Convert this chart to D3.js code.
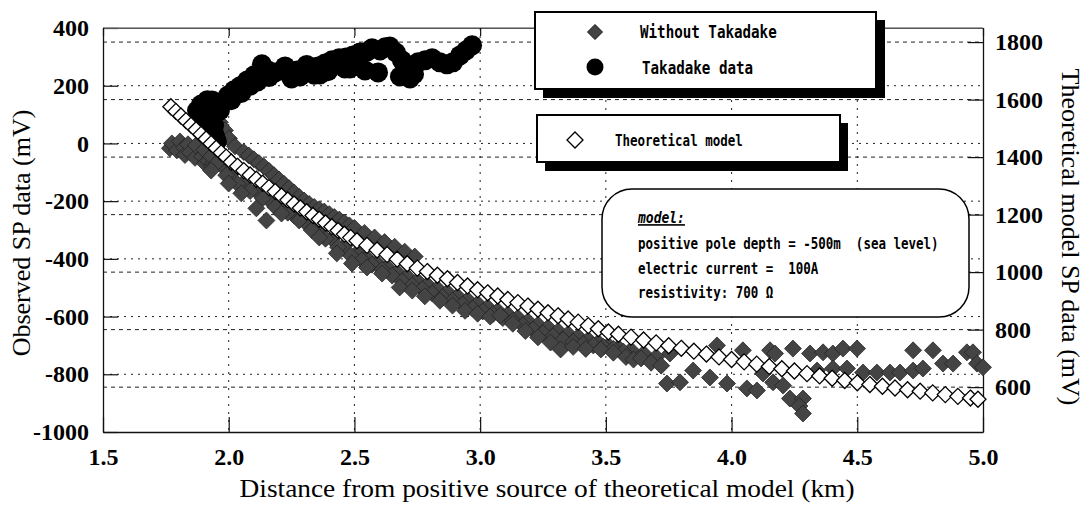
<!DOCTYPE html>
<html><head><meta charset="utf-8">
<script src="https://cdn.jsdelivr.net/npm/d3@7"></script>
<style>body{margin:0;background:#fff}svg{display:block}</style>
</head><body>
<svg id="c" width="1084" height="505"></svg>
<script>
const xTicks=[1.5,2.0,2.5,3.0,3.5,4.0,4.5,5.0];
const leftTicks=[-1000,-800,-600,-400,-200,0,200,400];
const rightTicks=[600,800,1000,1200,1400,1600,1800];

// Observed SP without Takadake (km, mV, left axis)
const withoutTakadake=[
[1.766,-17],[1.774,0],[1.794,-24],[1.806,7],[1.822,-14],[1.826,-40],[1.838,-3],[1.846,-31],[1.866,-50],[1.870,-7],[1.894,-45],[1.902,-22],[1.906,-70],[1.918,-60],[1.934,-80],[1.938,-68],
[1.965,73],[1.985,45],[2.001,17],[2.025,-10],
[2.06,-30],[2.08,-42],[2.10,-55],[2.12,-68],[2.14,-80],[2.16,-95],[2.18,-110],[2.20,-125],[2.22,-140],[2.24,-155],[2.26,-170],[2.28,-185],[2.30,-198],[2.32,-210],[2.34,-220],[2.36,-228],[2.38,-236],[2.40,-245],[2.42,-255],[2.44,-264],[2.46,-274],[2.48,-284],[2.50,-293],[2.54,-310],[2.58,-326],[2.62,-342],[2.66,-358],[2.70,-375],[2.74,-392],
[1.93,-45],[1.97,-75],[2.01,-105],[2.06,-135],[2.11,-165],[2.16,-195],[2.21,-222],[2.26,-250],[2.31,-278],[2.36,-305],[2.41,-330],[2.46,-355],[2.51,-380],[2.55,-398],[2.59,-414],[2.63,-430],[2.67,-446],[2.71,-462],[2.75,-476],[2.79,-490],[2.83,-503],[2.87,-516],[2.91,-530],[2.95,-542],[2.99,-555],[3.03,-568],[3.07,-580],[3.11,-592],[3.15,-604],[3.19,-616],[3.23,-628],[3.27,-638],[3.31,-650],[3.35,-660],[3.39,-670],[3.43,-680],[3.47,-690],[3.51,-700],[3.55,-708],[3.60,-716],[3.65,-728],[3.70,-740],
[1.95,-70],[1.99,-110],[2.035,-140],[2.085,-165],[2.135,-190],[2.185,-220],[2.235,-240],[2.285,-262],[2.335,-295],[2.385,-330],[2.435,-360],[2.485,-388],[2.53,-405],[2.57,-420],[2.61,-438],[2.65,-458],[2.69,-478],[2.73,-492],[2.77,-505],[2.81,-520],[2.85,-532],[2.89,-545],[2.93,-558],[2.97,-572],[3.01,-582],[3.05,-592],[3.09,-605],[3.13,-615],[3.17,-630],[3.21,-645],[3.25,-658],[3.29,-668],[3.33,-680],[3.37,-688],[3.41,-695],[3.45,-700],[3.49,-705],[3.53,-712],[3.57,-722],
[1.93,-94],[2.00,-139],[2.05,-173],[2.11,-225],[2.15,-267],[2.21,-243],[2.28,-267],[2.33,-300],[2.36,-326],[2.43,-381],[2.49,-416],[2.55,-430],[2.61,-451],[2.68,-499],[2.73,-510],[2.78,-530],[2.84,-545],[2.89,-562],[2.94,-580],[2.99,-590],[3.04,-600],[3.08,-596],[3.13,-625],[3.18,-650],[3.23,-672],[3.28,-690],[3.32,-714],[3.37,-705],[3.42,-712],[3.48,-714],[3.53,-725],[3.58,-740],[3.61,-749],
[3.64,-745],[3.68,-760],[3.72,-770],
[3.743,-832],[3.795,-828],[3.755,-728],[3.847,-787],[3.914,-811],[3.942,-700],[3.982,-832],[4.045,-717],[4.061,-849],[4.101,-856],[4.125,-797],[4.153,-717],[4.165,-828],[4.173,-728],[4.205,-839],[4.244,-711],[4.232,-884],[4.284,-884],[4.270,-910],[4.284,-936],
[4.312,-728],[4.340,-787],[4.364,-724],[4.403,-728],[4.403,-780],[4.443,-711],[4.459,-780],[4.499,-711],[4.523,-794],[4.578,-794],[4.630,-794],[4.670,-794],[4.722,-787],[4.761,-780],[4.722,-717],[4.801,-717],[4.841,-763],[4.881,-763],[4.936,-724],[4.960,-724],[4.976,-763],[5.0,-776]
];

// Takadake data (km, mV, left axis)
const takadake=[
[1.874,114],[1.886,87],[1.906,125],[1.926,107],[1.918,73],[1.942,62],[1.945,28],[1.953,7],[1.898,52],[1.934,149],[1.965,114],[1.890,135],[1.915,150],
[1.997,166],[2.010,150],[2.021,184],[2.045,198],[2.050,175],[2.073,218],[2.085,200],[2.101,236],[2.115,215],[2.128,243],[2.132,274],[2.156,253],[2.160,230],[2.184,246],[2.212,253],[2.224,267],[2.244,246],[2.250,225],[2.272,253],[2.284,232],[2.299,253],[2.310,272],[2.327,260],[2.340,238],[2.355,267],[2.363,239],[2.383,277],[2.395,250],[2.411,288],[2.439,295],[2.462,260],[2.466,298],[2.482,260],[2.494,305],[2.522,315],[2.542,253],[2.550,318],[2.570,330],[2.594,246],[2.602,322],[2.622,333],[2.641,336],
[2.665,315],[2.681,232],[2.689,288],[2.713,253],[2.721,225],[2.737,240],[2.753,281],[2.781,288],[2.809,295],[2.840,281],[2.868,274],[2.892,281],[2.920,305],[2.944,322],[2.968,340]
];

// Theoretical model (km, mV, right axis)
const theoretical=[
[1.77,1575],[1.79,1559],[1.81,1543],[1.83,1527],[1.85,1511],[1.87,1495],[1.89,1479],[1.91,1463],[1.93,1447],[1.95,1431],[1.97,1415],[1.99,1400],
[2.01,1383],[2.035,1368],[2.06,1353],[2.085,1338],[2.11,1323],[2.135,1309],[2.16,1294],[2.185,1280],[2.21,1265],[2.235,1251],[2.26,1237],[2.285,1223],[2.31,1210],[2.335,1197],[2.36,1184],[2.385,1171],[2.41,1158],[2.435,1145],[2.46,1132],[2.485,1120],
[2.51,1109],[2.55,1093],[2.59,1077],[2.63,1061],[2.67,1045],[2.71,1029],[2.75,1014],[2.79,1002],[2.83,989],[2.87,977],[2.91,964],[2.95,952],[2.99,939],
[3.03,928],[3.07,917],[3.11,905],[3.15,894],[3.19,882],[3.23,871],[3.27,859],[3.31,848],[3.35,837],[3.39,826],[3.43,814],[3.47,803],[3.51,792],[3.55,784],
[3.60,774],[3.65,764],[3.70,754],[3.75,744],[3.80,735],[3.85,725],[3.90,715],[3.95,705],[4.00,696],[4.05,688],[4.10,680],[4.15,672],[4.20,664],[4.25,656],[4.30,647],[4.35,639],[4.40,631],[4.45,623],[4.50,615],
[4.55,609],[4.60,603],[4.65,597],[4.70,591],[4.75,586],[4.80,580],[4.85,574],[4.90,568],[4.95,562],[4.98,558]
];

const legendLabels=["Without Takadake","Takadake data","Theoretical model"];
const modelTitle="model:";
const modelLines=["positive pole depth = -500m  (sea level)","electric current =  100A","resistivity: 700 Ω"];
const xTitle="Distance from positive source of theoretical model (km)";
const yLeftTitle="Observed SP data (mV)";
const yRightTitle="Theoretical model SP data (mV)";

const svg=d3.select("#c");
svg.append("rect").attr("width",1084).attr("height",505).attr("fill","#fff");
const L=103,R=983,T=28,B=432;
const x=d3.scaleLinear().domain([1.5,5.0]).range([L,R]);
const yL=d3.scaleLinear().domain([-1000,400]).range([B,T]);
const yR=d3.scaleLinear().domain([444,1849]).range([B,T]);

const serif="'Liberation Serif','Times New Roman',serif";
const mono="'DejaVu Sans Mono','Liberation Mono',monospace";

// grid
const g=svg.append("g");
g.selectAll(".gl").data(leftTicks.filter(v=>v>-1000&&v<400)).join("line")
 .attr("x1",L).attr("x2",R).attr("y1",d=>yL(d)).attr("y2",d=>yL(d))
 .attr("stroke","#222").attr("stroke-width",1).attr("stroke-dasharray","2,5");
g.selectAll(".gr").data(rightTicks).join("line")
 .attr("x1",L).attr("x2",R).attr("y1",d=>yR(d)).attr("y2",d=>yR(d))
 .attr("stroke","#222").attr("stroke-width",1).attr("stroke-dasharray","4,4");
g.selectAll(".gv").data(xTicks.filter(v=>v>1.5&&v<5)).join("line")
 .attr("x1",d=>x(d)).attr("x2",d=>x(d)).attr("y1",T).attr("y2",B)
 .attr("stroke","#222").attr("stroke-width",1).attr("stroke-dasharray","2,6");

// frame
svg.append("line").attr("x1",L).attr("x2",R).attr("y1",T).attr("y2",T).attr("stroke","#444").attr("stroke-width",1);

const fmtInt=d=>String(d);
const axL=svg.append("g").attr("transform",`translate(${L},0)`)
 .call(d3.axisLeft(yL).tickValues(leftTicks).tickSizeInner(-15).tickSizeOuter(0).tickPadding(14).tickFormat(fmtInt));
const axR=svg.append("g").attr("transform",`translate(${R},0)`)
 .call(d3.axisRight(yR).tickValues(rightTicks).tickSizeInner(-15).tickSizeOuter(0).tickPadding(12).tickFormat(fmtInt));
const axB=svg.append("g").attr("transform",`translate(0,${B})`)
 .call(d3.axisBottom(x).tickValues(xTicks).tickSizeInner(-15).tickSizeOuter(0).tickPadding(16).tickFormat(d=>d.toFixed(1)));
const axT=svg.append("g").attr("transform",`translate(0,${T})`)
 .call(d3.axisTop(x).tickValues(xTicks).tickSizeInner(-8).tickSizeOuter(0).tickFormat(""));
[axL,axR,axB,axT].forEach(a=>{
  a.select(".domain").attr("stroke","#111").attr("stroke-width",1.3);
  a.selectAll(".tick line").attr("stroke","#111").attr("stroke-width",1.2);
  a.selectAll("text").attr("font-family",serif).attr("font-size",24).attr("font-weight","bold").attr("fill","#000");
});
axT.select(".domain").attr("stroke","#555").attr("stroke-width",1);

// marks
const diamond=r=>`M0,${-r}L${r},0L0,${r}L${-r},0Z`;
const marks=svg.append("g");
marks.selectAll(".obs").data(withoutTakadake).join("path")
 .attr("d",diamond(8.5)).attr("transform",d=>`translate(${x(d[0])},${yL(d[1])})`)
 .attr("fill","#444").attr("stroke","#1e1e1e").attr("stroke-width",0.7);
marks.selectAll(".tak").data(takadake).join("circle")
 .attr("cx",d=>x(d[0])).attr("cy",d=>yL(d[1])).attr("r",10).attr("fill","#000");
marks.selectAll(".theo").data(theoretical).join("path")
 .attr("d",diamond(8)).attr("transform",d=>`translate(${x(d[0])},${yR(d[1])})`)
 .attr("fill","#fff").attr("stroke","#000").attr("stroke-width",1.3);

// titles
svg.append("text").attr("x",547).attr("y",497).attr("text-anchor","middle")
 .attr("font-family",serif).attr("font-size",26).attr("textLength",615).attr("lengthAdjust","spacingAndGlyphs").text(xTitle);
svg.append("text").attr("transform","translate(30,233) rotate(-90)").attr("text-anchor","middle")
 .attr("font-family",serif).attr("font-size",26).text(yLeftTitle);
svg.append("text").attr("transform","translate(1062,237) rotate(90)").attr("text-anchor","middle")
 .attr("font-family",serif).attr("font-size",26).text(yRightTitle);

// helper for tall condensed mono text
function monoText(sel,t,x0,y0,size,extra){
  const e=sel.append("text").attr("transform",`translate(${x0},${y0}) scale(1,1.25)`)
   .attr("font-family",mono).attr("font-weight","bold").attr("font-size",size)
   .style("white-space","pre").text(t);
  if(extra) extra(e);
  return e;
}

// legend box 1
const lg=svg.append("g");
lg.append("rect").attr("x",543).attr("y",20).attr("width",342).attr("height",78).attr("fill","#000");
lg.append("rect").attr("x",535).attr("y",12).attr("width",341).attr("height",77).attr("fill","#fff").attr("stroke","#000").attr("stroke-width",2);
lg.append("path").attr("d",diamond(7.5)).attr("transform","translate(595,32)").attr("fill","#444").attr("stroke","#111");
lg.append("circle").attr("cx",595).attr("cy",67).attr("r",8.5).attr("fill","#000");
monoText(lg,legendLabels[0],640,38,14.2);
monoText(lg,legendLabels[1],642,74,14.2);
// legend box 2
lg.append("rect").attr("x",545).attr("y",123).attr("width",303).attr("height",48).attr("fill","#000");
lg.append("rect").attr("x",537).attr("y",115).attr("width",303).attr("height",47).attr("fill","#fff").attr("stroke","#000").attr("stroke-width",2);
lg.append("path").attr("d",diamond(8)).attr("transform","translate(575,140)").attr("fill","#fff").attr("stroke","#000").attr("stroke-width",1.3);
monoText(lg,legendLabels[2],615,146,12.5);

// model box
const mb=svg.append("g");
mb.append("rect").attr("x",602).attr("y",189).attr("width",367).attr("height",128).attr("rx",30).attr("ry",30)
 .attr("fill","#fff").attr("stroke","#000").attr("stroke-width",1.5);
monoText(mb,modelTitle,638,223,13,e=>e.attr("font-style","italic").attr("text-decoration","underline"));
modelLines.forEach((t,i)=>monoText(mb,t,638,249+i*24.5,12.5));
</script>
</body></html>
